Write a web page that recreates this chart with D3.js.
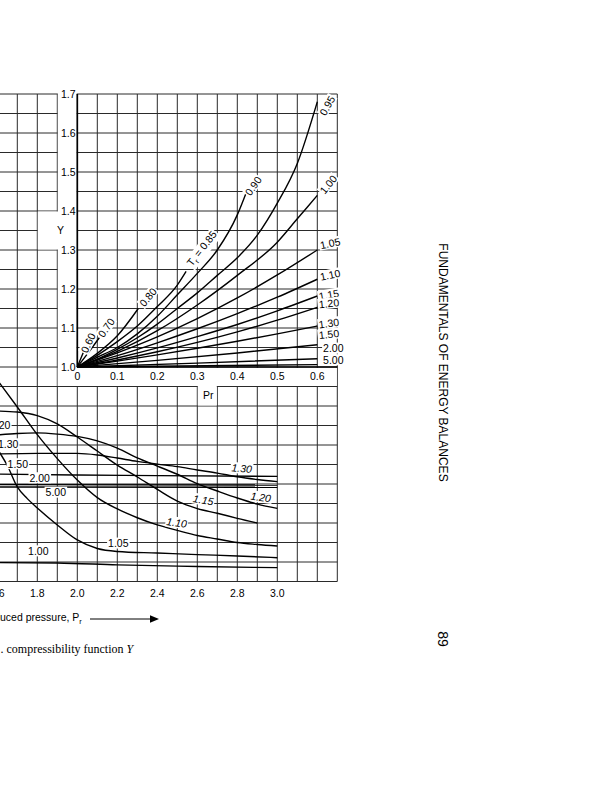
<!DOCTYPE html>
<html>
<head>
<meta charset="utf-8">
<script src="https://cdn.jsdelivr.net/npm/d3@7"></script>
<style>
  body { margin: 0; background: #fff; }
  svg { display: block; font-family: "Liberation Sans", Arial, Helvetica, sans-serif; }
</style>
</head>
<body>
<svg id="page" width="612" height="800"></svg>
<script>
// ---- main chart data (reduced pressure Pr, function Y) ----
const mainTicks = [1.6, 1.8, 2.0, 2.2, 2.4, 2.6, 2.8, 3.0];
const main100 = [[1.6,0.597],[1.9,0.595],[2.2,0.585],[2.6,0.577],[3.0,0.571]];
const main105 = [[1.6,1.18],[1.65,1.095],[1.7,0.985],[1.75,0.925],[1.8,0.877],[1.9,0.79],[2.0,0.713],
                 [2.1,0.669],[2.2,0.654],[2.4,0.646],[2.6,0.638],[2.8,0.631],[3.0,0.622]];
const main110 = [[1.6,1.533],[1.7,1.395],[1.8,1.253],[1.9,1.13],[2.0,1.02],[2.1,0.93],[2.2,0.872],
                 [2.3,0.827],[2.4,0.79],[2.5,0.762],[2.6,0.736],[2.7,0.718],[2.8,0.70],[2.9,0.69],[3.0,0.682]];
const main115 = [[1.6,1.374],[1.7,1.369],[1.8,1.351],[1.9,1.308],[2.0,1.241],[2.1,1.169],[2.2,1.097],
                 [2.3,1.036],[2.4,0.972],[2.5,0.912],[2.6,0.874],[2.7,0.85],[2.8,0.824],[2.9,0.80]];
const main120 = [[1.6,1.251],[1.7,1.259],[1.8,1.262],[1.9,1.256],[2.0,1.244],[2.1,1.221],[2.2,1.184],
                 [2.3,1.134],[2.4,1.092],[2.5,1.05],[2.6,1.002],[2.7,0.964],[2.8,0.928],[2.9,0.897],[3.0,0.875]];
const main130 = [[1.6,1.154],[1.8,1.157],[2.0,1.157],[2.1,1.149],[2.2,1.133],[2.3,1.116],[2.4,1.102],
                 [2.5,1.089],[2.6,1.072],[2.7,1.056],[2.8,1.037],[2.9,1.023],[3.0,1.012]];
const main150 = [[1.6,1.051],[2.0,1.046],[2.4,1.043],[3.0,1.039]];
const main200 = [[1.6,0.997],[3.0,0.995]];
const main500 = [[1.6,0.985],[3.0,0.983]];

// ---- inset data (low pressure region) ----
const insetTicksX = [0, 0.1, 0.2, 0.3, 0.4, 0.5, 0.6];
const insetTicksY = [1.0, 1.1, 1.2, 1.3, 1.4, 1.5, 1.6, 1.7];
const inset060 = [[0,1],[0.016,1.04]];
const inset070 = [[0,1],[0.03,1.04],[0.055,1.075]];
const inset080 = [[0,1],[0.05,1.035],[0.1,1.08],[0.1525,1.15]];
const inset085 = [[0,1],[0.05,1.03],[0.1,1.065],[0.15,1.105],[0.2,1.155],[0.25,1.21],[0.272,1.245]];
const inset090 = [[0,1],[0.05,1.025],[0.1,1.05],[0.15,1.085],[0.2,1.13],[0.25,1.185],[0.3,1.24],
                  [0.35,1.30],[0.4,1.39],[0.4235,1.45]];
const inset095 = [[0,1],[0.05,1.02],[0.1,1.045],[0.15,1.075],[0.2,1.11],[0.25,1.15],[0.3,1.19],
                  [0.35,1.235],[0.4,1.28],[0.45,1.338],[0.5,1.42],[0.55,1.522],[0.6,1.68]];
const inset100 = [[0,1],[0.1,1.04],[0.2,1.093],[0.3,1.159],[0.4,1.235],[0.5,1.32],[0.55,1.38],[0.6,1.44]];
const inset105 = [[0,1],[0.1,1.036],[0.2,1.077],[0.3,1.124],[0.4,1.177],[0.5,1.236],[0.6,1.30]];
const inset110 = [[0,1],[0.1,1.029],[0.2,1.062],[0.3,1.098],[0.4,1.137],[0.5,1.179],[0.6,1.225]];
const inset115 = [[0,1],[0.1,1.023],[0.2,1.049],[0.3,1.078],[0.4,1.109],[0.5,1.144],[0.6,1.182]];
const inset120 = [[0,1],[0.1,1.018],[0.2,1.039],[0.3,1.063],[0.4,1.09],[0.5,1.12],[0.6,1.153]];
const inset130 = [[0,1],[0.1,1.015],[0.2,1.031],[0.3,1.048],[0.4,1.066],[0.5,1.085],[0.6,1.105]];
const inset150 = [[0,1],[0.2,1.017],[0.4,1.036],[0.6,1.057]];
const inset200 = [[0,1],[0.3,1.01],[0.6,1.021]];
const inset500 = [[0,1],[0.6,1.006]];

// curve labels: text, anchor (Pr, Y), rotation
const mainLabels = [
  ["1.20", 1.6145, 1.30, 0], ["1.30", 1.654, 1.205, 0], ["1.50", 1.7025, 1.103, 0],
  ["2.00", 1.812, 1.031, 0], ["5.00", 1.8925, 0.957, 0], ["1.00", 1.805, 0.656, 0],
  ["1.05", 2.205, 0.696, 0], ["1.10", 2.497, 0.802, 8, true], ["1.15", 2.63, 0.918, 10, true],
  ["1.20", 2.9175, 0.932, 8, true], ["1.30", 2.822, 1.08, 5, true]
];
const insetLabels = [
  ["0.60", 0.027, 1.062, -65], ["0.70", 0.0725, 1.101, -55], ["0.80", 0.177, 1.179, -50],
  ["Tr = 0.85", 0.311, 1.304, -52], ["0.90", 0.44, 1.464, -55], ["0.95", 0.625, 1.67, -60],
  ["1.00", 0.6275, 1.468, -50], ["1.05", 0.632, 1.317, -12], ["1.10", 0.632, 1.236, -12],
  ["1.15", 0.629, 1.185, -10], ["1.20", 0.629, 1.163, -6], ["1.30", 0.629, 1.112, -8],
  ["1.50", 0.629, 1.084, -6], ["2.00", 0.64, 1.048, 0], ["5.00", 0.64, 1.018, 0]
];

const svg = d3.select("#page");

// scales
const x = d3.scaleLinear().domain([1.8, 3.0]).range([37.3, 277.3]);
const y = d3.scaleLinear().domain([0.5, 3.0]).range([581.5, 94]);
const xi = d3.scaleLinear().domain([0, 0.6]).range([77.3, 317.3]);
const yi = d3.scaleLinear().domain([1.0, 1.7]).range([367, 94]);

// grid of the big chart (inset grid lines fall on the same lines)
const grid = svg.append("g").attr("stroke", "#2a2a2a").attr("stroke-width", 1);
grid.selectAll("line.v").data(d3.range(14, 34).map(d => d / 10)).enter().append("line")
  .attr("class", "v")
  .attr("x1", d => x(d)).attr("x2", d => x(d))
  .attr("y1", y(3.0)).attr("y2", y(0.5));
grid.selectAll("line.h").data(d3.range(5, 31).map(d => d / 10)).enter().append("line")
  .attr("class", "h")
  .attr("x1", x(1.4)).attr("x2", x(3.3))
  .attr("y1", d => y(d)).attr("y2", d => y(d));

// big chart curves
const mainLine = d3.line().x(d => x(d[0])).y(d => y(d[1])).curve(d3.curveMonotoneX);
svg.append("g").selectAll("path")
  .data([main100, main105, main110, main115, main120, main130, main150, main200, main500])
  .enter().append("path")
  .attr("d", mainLine)
  .attr("fill", "none").attr("stroke", "#000").attr("stroke-width", 1.4);

// white areas for the inset's axis labels
const masks = [
  [x(1.9) + 0.5, 86, xi(0) - 0.6, y(1.5) - 0.5],
  [x(1.9) + 0.5, yi(1.0) + 0.9, x(3.3) - 0.5, y(1.5) - 0.5],
  [x(2.6) + 0.5, yi(1.0) + 0.9, x(2.7) - 0.5, y(1.4) - 0.5],
  [x(1.8) + 0.5, y(2.4) + 0.5, xi(0) - 0.6, y(2.2) - 0.5]
];
svg.append("g").selectAll("rect").data(masks).enter().append("rect")
  .attr("x", d => d[0]).attr("y", d => d[1])
  .attr("width", d => d[2] - d[0]).attr("height", d => d[3] - d[1])
  .attr("fill", "#fff");

// inset axes
svg.append("line").attr("x1", xi(0)).attr("x2", xi(0)).attr("y1", yi(1.7)).attr("y2", yi(1.0))
  .attr("stroke", "#000").attr("stroke-width", 1.7);
svg.append("line").attr("x1", xi(0)).attr("x2", x(3.3)).attr("y1", yi(1.0)).attr("y2", yi(1.0))
  .attr("stroke", "#000").attr("stroke-width", 1.4);

// inset curves
const insetLine = d3.line().x(d => xi(d[0])).y(d => yi(d[1])).curve(d3.curveMonotoneX);
svg.append("g").selectAll("path")
  .data([inset060, inset070, inset080, inset085, inset090, inset095, inset100, inset105,
         inset110, inset115, inset120, inset130, inset150, inset200, inset500])
  .enter().append("path")
  .attr("d", insetLine)
  .attr("fill", "none").attr("stroke", "#000").attr("stroke-width", 1.4);

// labels with a white box behind
function label(g, txt, px, py, rot, italic) {
  const lg = g.append("g").attr("transform", `translate(${px},${py}) rotate(${rot})`);
  const t = lg.append("text").attr("text-anchor", "middle").attr("dy", "0.36em")
    .attr("font-size", 10.5).attr("fill", "#000");
  if (italic) t.attr("font-style", "italic");
  if (txt.startsWith("Tr")) {
    t.append("tspan").text("T");
    t.append("tspan").attr("dy", 3).attr("font-size", 7.5).text("r");
    t.append("tspan").attr("dy", -3).text(" = 0.85");
  } else {
    t.text(txt);
  }
  const b = t.node().getBBox();
  lg.insert("rect", "text")
    .attr("x", b.x - 1).attr("y", b.y + 0.5).attr("width", b.width + 2).attr("height", b.height - 1)
    .attr("fill", "#fff");
}
const lab = svg.append("g");
mainLabels.forEach(d => label(lab, d[0], x(d[1]), y(d[2]), d[3], d[4]));
insetLabels.forEach(d => label(lab, d[0], xi(d[1]), yi(d[2]), d[3], false));

// tick labels
const ticks = svg.append("g").attr("font-size", 10.5).attr("fill", "#000");
ticks.selectAll("text.mx").data(mainTicks).enter().append("text")
  .attr("class", "mx").attr("x", d => x(d)).attr("y", 596.5).attr("text-anchor", "middle")
  .text(d => d.toFixed(1));
ticks.selectAll("text.ix").data(insetTicksX).enter().append("text")
  .attr("class", "ix").attr("x", d => xi(d)).attr("y", 380).attr("text-anchor", "middle")
  .text(d => d === 0 ? "0" : d.toFixed(1));
ticks.selectAll("text.iy").data(insetTicksY).enter().append("text")
  .attr("class", "iy").attr("x", 75.5).attr("y", d => yi(d)).attr("dy", "0.36em")
  .attr("text-anchor", "end")
  .text(d => d.toFixed(1));
ticks.append("text").attr("x", 208.3).attr("y", 395.5).attr("dy", "0.36em")
  .attr("text-anchor", "middle").text("Pr");
ticks.append("text").attr("x", 60.5).attr("y", 230).attr("dy", "0.36em")
  .attr("text-anchor", "middle").text("Y");

// axis title with arrow
const at = svg.append("text").attr("x", -19.3).attr("y", 621).attr("font-size", 10.5);
at.append("tspan").text("Reduced pressure, P");
at.append("tspan").attr("dy", 2.5).attr("font-size", 7.5).text("r");
svg.append("line").attr("x1", 90).attr("x2", 151).attr("y1", 619).attr("y2", 619)
  .attr("stroke", "#000").attr("stroke-width", 1);
svg.append("path").attr("d", "M150,615.3L159,619L150,622.7Z").attr("fill", "#000");

// caption
const cap = svg.append("text").attr("x", 0.5).attr("y", 653)
  .attr("font-family", "'Liberation Serif', 'Times New Roman', serif").attr("font-size", 12);
cap.append("tspan").text(". compressibility function ");
cap.append("tspan").attr("font-style", "italic").text("Y");

// running head and page number (rotated page)
svg.append("text").attr("transform", "translate(438.5,362.5) rotate(90)")
  .attr("text-anchor", "middle").attr("font-size", 12).text("FUNDAMENTALS OF ENERGY BALANCES");
svg.append("text").attr("transform", "translate(438,639) rotate(90)")
  .attr("text-anchor", "middle").attr("font-size", 14).text("89");
</script>
</body>
</html>
